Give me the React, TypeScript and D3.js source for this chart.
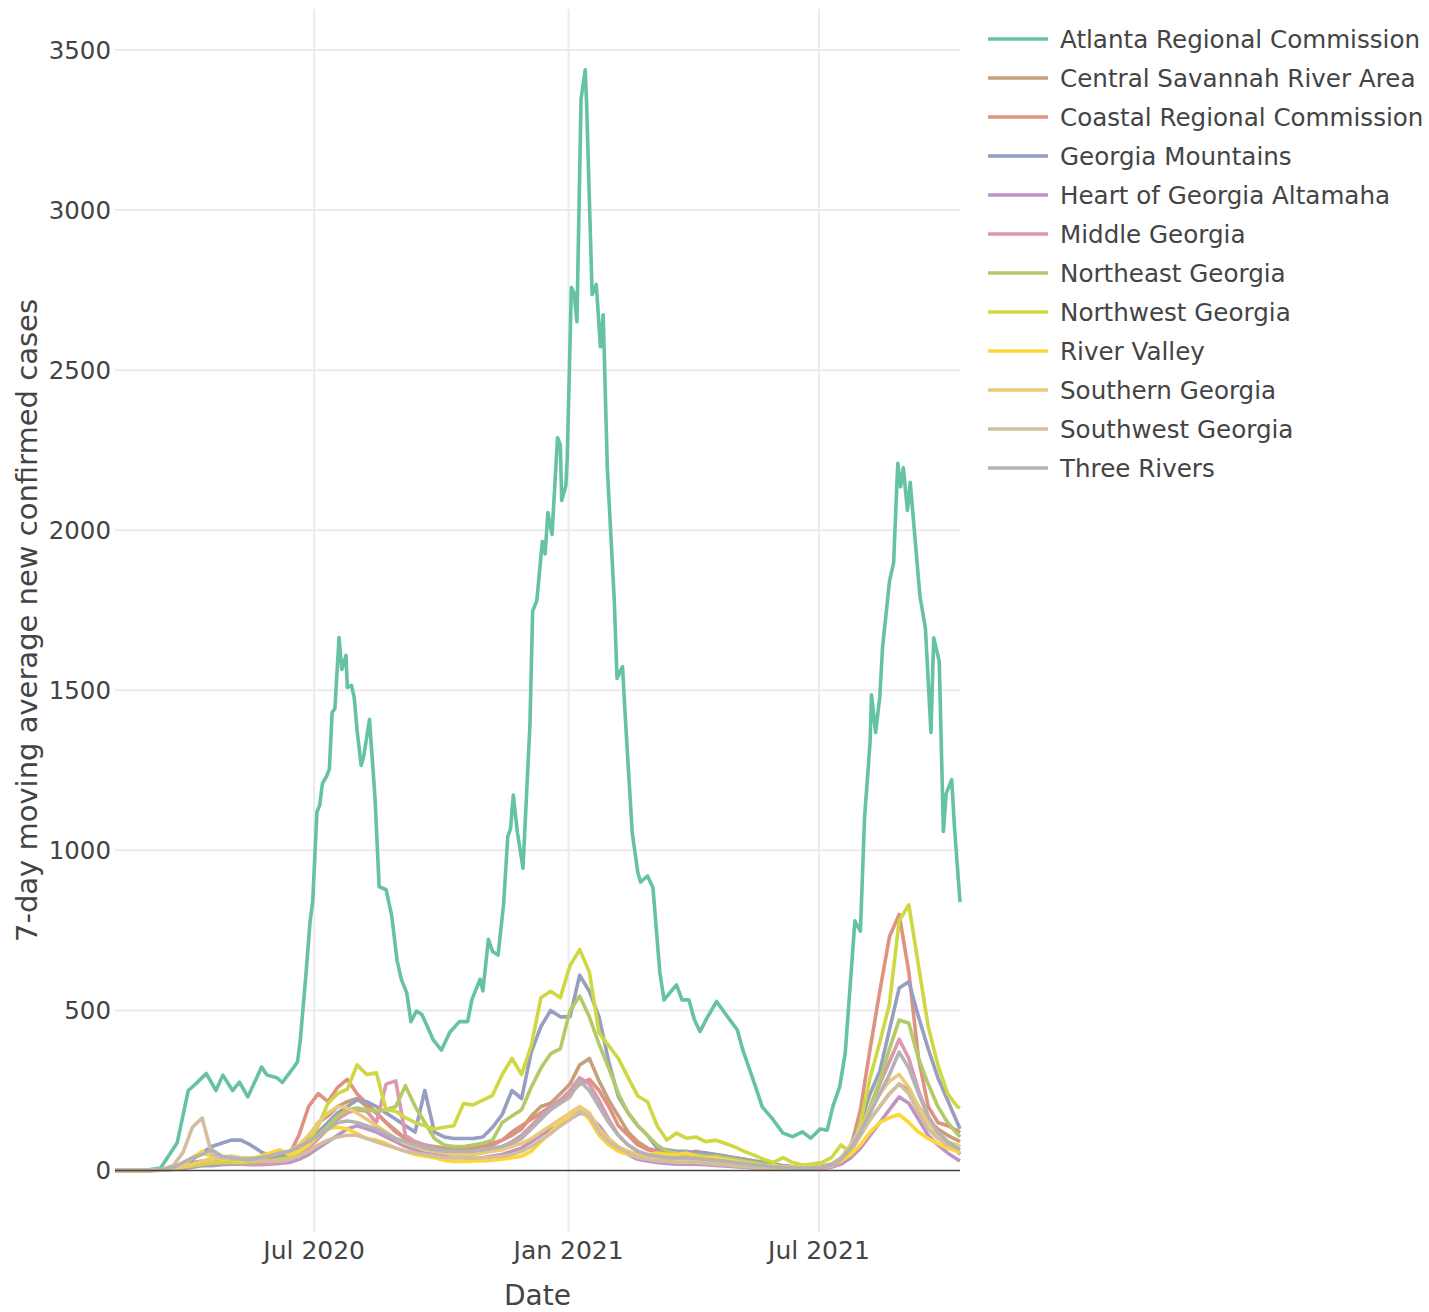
import React from 'react';
import * as d3 from 'd3';

// weekly sample dates shared by the smaller regions
const weekDates = [
  '2020-02-08', '2020-02-15', '2020-02-22', '2020-02-29', '2020-03-07', '2020-03-14', '2020-03-21', '2020-03-28',
  '2020-04-04', '2020-04-11', '2020-04-18', '2020-04-25', '2020-05-02', '2020-05-09', '2020-05-16', '2020-05-23',
  '2020-05-30', '2020-06-06', '2020-06-13', '2020-06-20', '2020-06-27', '2020-07-04', '2020-07-11', '2020-07-18',
  '2020-07-25', '2020-08-01', '2020-08-08', '2020-08-15', '2020-08-22', '2020-08-29', '2020-09-05', '2020-09-12',
  '2020-09-19', '2020-09-26', '2020-10-03', '2020-10-10', '2020-10-17', '2020-10-24', '2020-10-31', '2020-11-07',
  '2020-11-14', '2020-11-21', '2020-11-28', '2020-12-05', '2020-12-12', '2020-12-19', '2020-12-26', '2021-01-02',
  '2021-01-09', '2021-01-16', '2021-01-23', '2021-01-30', '2021-02-06', '2021-02-13', '2021-02-20', '2021-02-27',
  '2021-03-06', '2021-03-13', '2021-03-20', '2021-03-27', '2021-04-03', '2021-04-10', '2021-04-17', '2021-04-24',
  '2021-05-01', '2021-05-08', '2021-05-15', '2021-05-22', '2021-05-29', '2021-06-05', '2021-06-12', '2021-06-19',
  '2021-06-26', '2021-07-03', '2021-07-10', '2021-07-17', '2021-07-24', '2021-07-31', '2021-08-07', '2021-08-14',
  '2021-08-21', '2021-08-28', '2021-09-04', '2021-09-11', '2021-09-18', '2021-09-25', '2021-10-02', '2021-10-09',
  '2021-10-11',
];

// Atlanta is read at its turning points
const atlantaDates = [
  '2020-02-08', '2020-03-01', '2020-03-12', '2020-03-24', '2020-03-27', '2020-04-01', '2020-04-07', '2020-04-14',
  '2020-04-21', '2020-04-26', '2020-05-03', '2020-05-08', '2020-05-14', '2020-05-24', '2020-05-28', '2020-06-04',
  '2020-06-08', '2020-06-15', '2020-06-19', '2020-06-21', '2020-06-25', '2020-06-28', '2020-06-30', '2020-07-03',
  '2020-07-05', '2020-07-07', '2020-07-10', '2020-07-12', '2020-07-14', '2020-07-16', '2020-07-19', '2020-07-21',
  '2020-07-24', '2020-07-25', '2020-07-28', '2020-07-30', '2020-08-01', '2020-08-04', '2020-08-06', '2020-08-10',
  '2020-08-14', '2020-08-17', '2020-08-22', '2020-08-26', '2020-08-30', '2020-09-02', '2020-09-06', '2020-09-09',
  '2020-09-13', '2020-09-17', '2020-09-25', '2020-10-01', '2020-10-07', '2020-10-14', '2020-10-20', '2020-10-23',
  '2020-10-29', '2020-10-31', '2020-11-04', '2020-11-07', '2020-11-11', '2020-11-15', '2020-11-18', '2020-11-20',
  '2020-11-22', '2020-11-25', '2020-11-29', '2020-12-04', '2020-12-06', '2020-12-09', '2020-12-13', '2020-12-15',
  '2020-12-17', '2020-12-20', '2020-12-24', '2020-12-26', '2020-12-27', '2020-12-30', '2020-12-31', '2021-01-03',
  '2021-01-05', '2021-01-07', '2021-01-10', '2021-01-13', '2021-01-14', '2021-01-18', '2021-01-21', '2021-01-24',
  '2021-01-26', '2021-01-29', '2021-02-03', '2021-02-05', '2021-02-09', '2021-02-11', '2021-02-16', '2021-02-20',
  '2021-02-22', '2021-02-27', '2021-03-03', '2021-03-08', '2021-03-11', '2021-03-15', '2021-03-20', '2021-03-24',
  '2021-03-29', '2021-04-02', '2021-04-06', '2021-04-11', '2021-04-18', '2021-04-25', '2021-05-03', '2021-05-07',
  '2021-05-12', '2021-05-17', '2021-05-21', '2021-05-29', '2021-06-05', '2021-06-12', '2021-06-19', '2021-06-25',
  '2021-07-02', '2021-07-07', '2021-07-11', '2021-07-16', '2021-07-20', '2021-07-27', '2021-07-31', '2021-08-03',
  '2021-08-07', '2021-08-08', '2021-08-11', '2021-08-14', '2021-08-16', '2021-08-21', '2021-08-24', '2021-08-27',
  '2021-08-29', '2021-08-31', '2021-09-03', '2021-09-05', '2021-09-12', '2021-09-16', '2021-09-20', '2021-09-22',
  '2021-09-26', '2021-09-29', '2021-10-01', '2021-10-05', '2021-10-07', '2021-10-11',
];
const atlantaValues = [
  0, 1, 8, 87, 148, 250, 273, 303,
  250, 298, 250, 276, 230, 323, 298, 290,
  275, 315, 340, 408, 609, 776, 842, 1120,
  1141, 1209, 1231, 1254, 1431, 1442, 1665, 1565,
  1609, 1509, 1515, 1477, 1376, 1265, 1298, 1409,
  1165, 887, 877, 798, 655, 598, 554, 465,
  498, 487, 409, 376, 431, 465, 465, 533,
  598, 561, 722, 684, 673, 833, 1043, 1067,
  1173, 1055, 944, 1389, 1747, 1780, 1965, 1926,
  2055, 1987, 2289, 2267, 2093, 2139, 2226, 2758,
  2740, 2651, 3348, 3438, 3333, 2736, 2768, 2573,
  2673, 2193, 1783, 1537, 1574, 1414, 1055, 932,
  901, 920, 883, 617, 533, 554, 580, 533,
  533, 470, 434, 476, 528, 486, 439, 376,
  314, 251, 199, 158, 117, 106, 121, 101,
  130, 126, 199, 262, 366, 780, 748, 1103,
  1339, 1486, 1368, 1480, 1634, 1840, 1899, 2209,
  2136, 2195, 2062, 2150, 1796, 1693, 1368, 1664,
  1590, 1059, 1177, 1221, 1073, 838,
];

const centralSavannah = [
  0, 0, 0, 0, 1, 3, 8, 15, 25, 30, 35, 30, 30, 28, 30, 35, 40, 45, 50, 70, 100,
  150, 170, 200, 215, 225, 200, 180, 150, 125, 100, 90, 80, 75, 70, 70, 70, 75, 80, 85, 95, 110, 130,
  170, 200, 210, 240, 270, 330, 350, 280, 220, 170, 120, 90, 70, 60, 55, 55, 50, 50, 45, 45, 40,
  35, 30, 25, 20, 18, 15, 12, 12, 12, 14, 20, 40, 70, 110, 160, 200, 240, 270, 250, 200, 160, 130,
  110, 95, 90,
];
const coastal = [
  0, 0, 0, 0, 1, 3, 8, 15, 22, 28, 30, 30, 30, 28, 25, 25, 28, 35, 50, 110, 200,
  240, 215, 260, 285, 240, 210, 180, 150, 120, 100, 80, 70, 65, 60, 60, 65, 70, 75, 80, 95, 120, 140,
  160, 180, 200, 220, 240, 270, 285, 250, 200, 140, 110, 80, 65, 60, 55, 55, 55, 60, 55, 50, 45,
  40, 35, 30, 25, 20, 15, 12, 10, 10, 12, 15, 25, 70, 190, 380, 560, 730, 800, 620, 350, 200, 150,
  140, 125, 118,
];
const georgiaMountains = [
  0, 0, 0, 0, 1, 3, 8, 20, 35, 55, 75, 85, 95, 95, 80, 60, 45, 45, 50, 70, 90,
  120, 150, 180, 200, 220, 215, 200, 180, 160, 140, 120, 250, 120, 105, 100, 100, 100, 105, 135, 175, 250, 225,
  370, 450, 500, 480, 480, 610, 560, 480, 340, 230, 180, 140, 110, 70, 65, 60, 60, 55, 55, 50, 45,
  40, 35, 30, 25, 20, 15, 12, 10, 10, 12, 18, 40, 80, 150, 240, 310, 440, 570, 590, 480, 380, 290,
  220, 150, 130,
];
const heartOfGeorgia = [
  0, 0, 0, 0, 0, 1, 3, 6, 10, 15, 15, 18, 20, 20, 18, 18, 20, 22, 25, 35, 50,
  70, 90, 110, 130, 140, 130, 120, 105, 90, 75, 65, 55, 50, 45, 40, 40, 38, 40, 45, 50, 60, 70,
  90, 110, 130, 140, 160, 180, 170, 140, 100, 70, 50, 35, 30, 25, 22, 20, 20, 20, 18, 16, 14,
  12, 10, 8, 7, 6, 5, 5, 5, 5, 6, 10, 20, 40, 70, 110, 150, 190, 230, 210, 160, 110, 80,
  55, 35, 30,
];
const middleGeorgia = [
  0, 0, 0, 0, 0, 2, 5, 10, 15, 20, 22, 25, 25, 22, 20, 20, 22, 25, 30, 45, 70,
  100, 130, 160, 180, 190, 185, 150, 270, 280, 110, 90, 80, 70, 60, 55, 55, 60, 60, 65, 75, 90, 110,
  140, 170, 200, 220, 250, 290, 270, 220, 160, 110, 80, 60, 45, 40, 35, 35, 35, 35, 30, 28, 25,
  22, 20, 15, 12, 10, 8, 7, 6, 6, 8, 12, 25, 60, 110, 190, 270, 340, 410, 350, 250, 170, 120,
  90, 60, 50,
];
const northeast = [
  0, 0, 0, 0, 1, 2, 5, 10, 15, 20, 22, 25, 25, 25, 25, 28, 30, 35, 40, 55, 80,
  110, 140, 170, 190, 195, 190, 185, 190, 200, 265, 200, 150, 100, 80, 75, 75, 80, 85, 95, 150, 170, 190,
  260, 320, 365, 380, 500, 545, 480, 395, 320, 240, 180, 140, 110, 80, 60, 55, 50, 50, 45, 45, 40,
  35, 30, 25, 20, 15, 12, 10, 10, 10, 12, 18, 35, 70, 130, 200, 280, 380, 470, 460, 350, 270, 200,
  150, 115, 105,
];
const northwest = [
  0, 0, 0, 0, 1, 2, 5, 10, 15, 20, 25, 25, 25, 25, 28, 30, 30, 35, 40, 55, 90,
  140, 210, 240, 254, 330, 300, 305, 190, 185, 165, 150, 140, 130, 135, 140, 209, 205, 220, 235, 300, 350, 300,
  390, 540, 560, 540, 640, 690, 620, 430, 390, 350, 290, 233, 215, 140, 95, 117, 101, 105, 90, 95, 85,
  74, 60, 48, 35, 25, 40, 25, 17, 20, 25, 40, 80, 55, 150, 290, 400, 520, 780, 830, 640, 450, 330,
  240, 200, 195,
];
const riverValley = [
  0, 0, 0, 0, 1, 2, 5, 15, 40, 60, 40, 35, 35, 30, 35, 45, 55, 65, 50, 60, 80,
  110, 130, 135, 130, 115, 100, 95, 85, 70, 60, 50, 45, 40, 32, 28, 28, 30, 30, 32, 35, 40, 45,
  60, 90, 120, 150, 170, 190, 160, 110, 80, 60, 50, 45, 50, 55, 50, 50, 55, 45, 40, 40, 35,
  30, 25, 20, 15, 15, 12, 10, 10, 10, 12, 18, 30, 50, 80, 120, 150, 165, 175, 150, 120, 100, 85,
  70, 60, 55,
];
const southernGeorgia = [
  0, 0, 0, 0, 1, 2, 6, 12, 20, 30, 35, 40, 45, 40, 40, 40, 45, 55, 60, 80, 110,
  150, 180, 200, 195, 180, 160, 140, 120, 100, 85, 75, 65, 60, 55, 50, 50, 50, 55, 60, 65, 75, 85,
  100, 120, 140, 160, 180, 200, 180, 130, 100, 75, 60, 50, 40, 35, 30, 30, 30, 28, 25, 22, 20,
  18, 15, 12, 10, 10, 8, 8, 8, 8, 10, 18, 40, 80, 130, 190, 240, 280, 300, 260, 200, 150, 110,
  90, 80, 75,
];
const southwestGeorgia = [
  0, 0, 0, 0, 2, 5, 15, 55, 135, 164, 50, 40, 35, 35, 30, 30, 30, 30, 35, 45, 60,
  80, 95, 105, 110, 110, 100, 90, 80, 70, 60, 55, 50, 45, 40, 40, 40, 40, 40, 42, 45, 50, 60,
  75, 95, 115, 140, 160, 185, 170, 120, 90, 70, 55, 40, 35, 30, 28, 25, 25, 25, 22, 20, 18,
  15, 12, 10, 8, 7, 6, 6, 6, 6, 8, 15, 35, 70, 110, 160, 200, 240, 270, 240, 180, 130, 100,
  80, 70, 65,
];
const threeRivers = [
  0, 0, 0, 0, 1, 3, 10, 25, 40, 50, 65, 45, 40, 35, 35, 40, 45, 55, 60, 75, 90,
  110, 130, 150, 155, 150, 140, 130, 115, 100, 90, 80, 70, 65, 60, 60, 60, 62, 65, 70, 75, 85, 100,
  130, 160, 190, 210, 230, 280, 250, 200, 150, 110, 80, 60, 50, 45, 40, 40, 40, 38, 35, 32, 30,
  25, 22, 18, 15, 12, 10, 8, 8, 8, 10, 18, 35, 70, 120, 180, 240, 300, 370, 320, 240, 170, 120,
  90, 70, 65,
];

const regionNames = [
  'Atlanta Regional Commission', 'Central Savannah River Area', 'Coastal Regional Commission',
  'Georgia Mountains', 'Heart of Georgia Altamaha', 'Middle Georgia', 'Northeast Georgia',
  'Northwest Georgia', 'River Valley', 'Southern Georgia', 'Southwest Georgia', 'Three Rivers',
];
const regionColors = [
  '#66c2a5', '#c5a07a', '#de927f', '#979ec1', '#be94c6', '#db98af',
  '#b2ca68', '#cfd843', '#fdd738', '#ecc978', '#d3be9f', '#b3b3b3',
];
const regionValues = [
  atlantaValues, centralSavannah, coastal, georgiaMountains, heartOfGeorgia, middleGeorgia,
  northeast, northwest, riverValley, southernGeorgia, southwestGeorgia, threeRivers,
];

const yTicks = [0, 500, 1000, 1500, 2000, 2500, 3000, 3500];
const xTicks = ['2020-07-01', '2021-01-01', '2021-07-01'];
const xTickLabels = ['Jul 2020', 'Jan 2021', 'Jul 2021'];

const W = 1429;
const H = 1312;
const font = '"DejaVu Sans", Verdana, sans-serif';

export default function App() {
  const parse = d3.timeParse('%Y-%m-%d');
  const left = 115, right = 960, top = 9, bottom = 1232;

  const x = d3.scaleTime()
    .domain([parse('2020-02-08'), parse('2021-10-11')])
    .range([left, right]);
  const y = d3.scaleLinear()
    .domain([-192, 3628])
    .range([bottom, top]);

  const line = d3.line<[Date, number]>()
    .x(d => x(d[0]))
    .y(d => y(d[1]));

  const series = regionNames.map((name, i) => {
    const dates = i === 0 ? atlantaDates : weekDates;
    const pts = dates.map((d, j) => [parse(d), regionValues[i][j]] as [Date, number]);
    return { name, color: regionColors[i], path: line(pts) };
  });

  return (
    <svg width={W} height={H} style={{ position: 'absolute', left: 0, top: 0, background: '#fff' }}
      fontFamily={font}>
      <rect width={W} height={H} fill="#fff" />
      {/* grid */}
      {yTicks.filter(t => t !== 0).map(t => (
        <line key={'gy' + t} x1={left} x2={right} y1={y(t)} y2={y(t)} stroke="#ebebeb" strokeWidth={2} />
      ))}
      {xTicks.map(t => (
        <line key={'gx' + t} x1={x(parse(t))} x2={x(parse(t))} y1={top} y2={bottom} stroke="#ebebeb" strokeWidth={2} />
      ))}
      {/* lines */}
      <g fill="none" strokeWidth={3.6} strokeLinejoin="round">
        {series.map(s => (
          <path key={s.name} d={s.path || ''} stroke={s.color} />
        ))}
      </g>
      {/* zero line */}
      <line x1={left} x2={right} y1={y(0)} y2={y(0)} stroke="#444" strokeWidth={1.5} />
      {/* y ticks */}
      <g fill="#444" fontSize={24.5} textAnchor="end">
        {yTicks.map(t => (
          <text key={'ty' + t} x={111} y={y(t)} dy="0.36em">{t}</text>
        ))}
      </g>
      {/* x ticks */}
      <g fill="#444" fontSize={25} textAnchor="middle">
        {xTicks.map((t, i) => (
          <text key={'tx' + t} x={x(parse(t))} y={1259}>{xTickLabels[i]}</text>
        ))}
      </g>
      {/* axis titles */}
      <text x={(left + right) / 2} y={1305} fontSize={28} fill="#444" textAnchor="middle">Date</text>
      <text transform={`translate(37, ${(top + bottom) / 2}) rotate(-90)`} fontSize={29} fill="#444" textAnchor="middle">
        7-day moving average new confirmed cases
      </text>
      {/* legend */}
      <g fontSize={24.6} fill="#444">
        {series.map((s, i) => {
          const ly = 39 + i * 39;
          return (
            <g key={'lg' + s.name}>
              <line x1={988} x2={1048} y1={ly} y2={ly} stroke={s.color} strokeWidth={3.6} />
              <text x={1060} y={ly} dy="0.36em">{s.name}</text>
            </g>
          );
        })}
      </g>
    </svg>
  );
}
